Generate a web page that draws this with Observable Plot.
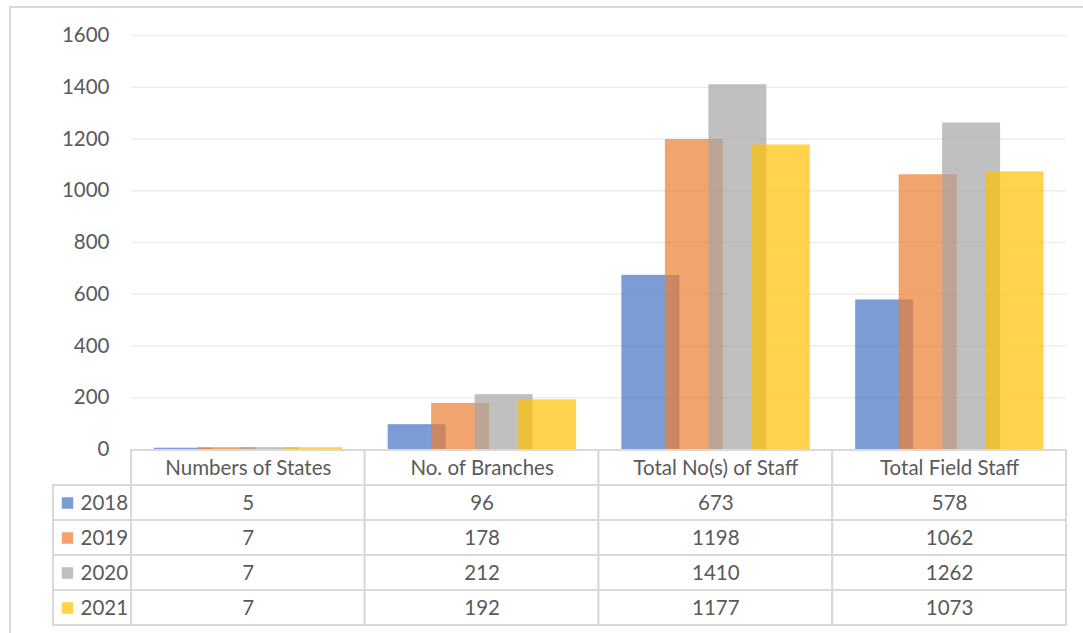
<!DOCTYPE html>
<html>
<head>
<meta charset="utf-8">
<script src="https://cdn.jsdelivr.net/npm/d3@7"></script>
<script src="https://cdn.jsdelivr.net/npm/@observablehq/plot@0.6"></script>
<style>
  html, body { margin: 0; padding: 0; background: #fff; overflow: hidden; }
  #page { position: relative; width: 1083px; height: 633px; }
  #frame { position: absolute; left: 9px; top: 6px; width: 1100px; height: 700px;
           border: 2px solid #DADADA; box-sizing: border-box; }
  #bars, #table { position: absolute; left: 0; }
  #bars { top: 0; }
  #table { top: 447px; }
</style>
</head>
<body>
<div id="page">
  <div id="frame"></div>
  <div id="bars"></div>
  <div id="table"></div>
</div>
<script>
// Categories shown along the bottom and as table header
const categories = ["Numbers of States", "No. of Branches", "Total No(s) of Staff", "Total Field Staff"];
// Years (series)
const years = ["2018", "2019", "2020", "2021"];
// Values per year, in category order
const v2018 = [5, 96, 673, 578];
const v2019 = [7, 178, 1198, 1062];
const v2020 = [7, 212, 1410, 1262];
const v2021 = [7, 192, 1177, 1073];
// Y axis ticks
const yTicks = [0, 200, 400, 600, 800, 1000, 1200, 1400, 1600];
const colors = ["#4472C4", "#ED7D31", "#A5A5A5", "#FFC000"];

const series = [v2018, v2019, v2020, v2021];
const rows = [];
years.forEach((yr, j) => {
  categories.forEach((c, i) => rows.push({year: yr, j, i, category: c, value: series[j][i]}));
});

// Overlapping cluster geometry in category units
const barW = 0.248, step = 0.186, start = 0.098;
const left = d => d.i - 0.5 + start + d.j * step;

const textStyle = {fontFamily: "Lato, 'Open Sans', sans-serif", fontSize: "20.5px", color: "#5a5a5a", background: "transparent", overflow: "visible"};

const chart = Plot.plot({
  width: 1083,
  height: 449,
  marginLeft: 131,
  marginRight: 17,
  marginTop: 35,
  marginBottom: 0,
  style: textStyle,
  x: {domain: [-0.5, 3.5], axis: null},
  y: {domain: [0, 1600], ticks: yTicks, tickSize: 0, tickPadding: 22, label: null, tickFormat: d => String(d)},
  color: {domain: years, range: colors},
  marks: [
    Plot.gridY(yTicks.filter(t => t > 0), {stroke: "#EDEDED", strokeOpacity: 1, strokeWidth: 1.5}),
    Plot.rectY(rows, {x1: left, x2: d => left(d) + barW, y1: 0, y2: "value", fill: "year", fillOpacity: 0.7})
  ]
});
document.getElementById("bars").appendChild(chart);

// Data table under the plot
const rowKeys = ["head", ...years];
const cells = [];
categories.forEach((c, i) => rowKeys.forEach(r => cells.push({row: r, x1: i - 0.5, x2: i + 0.5})));
years.forEach(r => cells.push({row: r, x1: -5 / 6, x2: -0.5}));

const headers = categories.map((c, i) => ({row: "head", i, label: c}));
const values = rows.map(d => ({row: d.year, i: d.i, label: String(d.value)}));

const table = Plot.plot({
  width: 1083,
  height: 182,
  marginLeft: 53,
  marginRight: 17,
  marginTop: 1,
  marginBottom: 2,
  style: textStyle,
  x: {domain: [-5 / 6, 3.5], axis: null},
  y: {domain: rowKeys, axis: null, padding: 0},
  color: {domain: years, range: colors},
  marks: [
    Plot.barX(cells, {y: "row", x1: "x1", x2: "x2", fill: "white", stroke: "#D9D9D9", strokeWidth: 2, inset: 0}),
    Plot.text(headers, {x: "i", y: "row", text: "label", fill: "#5a5a5a"}),
    Plot.text(values, {x: "i", y: "row", text: "label", fill: "#5a5a5a"}),
    Plot.dot(years, {x: -5 / 6, y: d => d, dx: 14, symbol: "square", r: 6.5, fill: d => d, fillOpacity: 0.7, stroke: null}),
    Plot.text(years, {x: -5 / 6, y: d => d, dx: 27, text: d => d, textAnchor: "start", fill: "#5a5a5a"})
  ]
});
document.getElementById("table").appendChild(table);
</script>
</body>
</html>
